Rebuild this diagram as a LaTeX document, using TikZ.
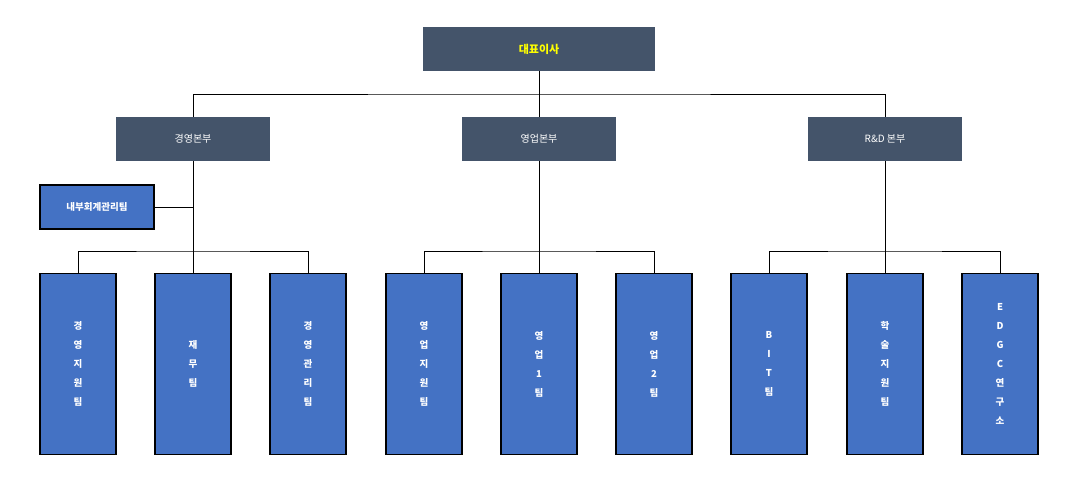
\documentclass[tikz,border=0pt]{standalone}
\usepackage{fontspec}
\newfontfamily\kr{Noto Sans CJK KR}
\usetikzlibrary{positioning}
\definecolor{HeadSlate}{HTML}{44546A}
\definecolor{TeamBlue}{HTML}{4472C4}
\definecolor{HeadYellow}{HTML}{FFFF00}

\begin{document}
\begin{tikzpicture}[
        x=1pt, y=-1pt,
        headbox/.style={rectangle, fill=HeadSlate, minimum width=232pt, minimum height=44pt, font=\kr\bfseries\fontsize{11}{13}\selectfont, text=HeadYellow},
        divbox/.style={rectangle, fill=HeadSlate, minimum width=154pt, minimum height=44pt, font=\kr\fontsize{10}{12}\selectfont, text=white},
        teambox/.style={rectangle, draw=black, line width=1.8pt, fill=TeamBlue, minimum width=76pt, minimum height=181pt, font=\kr\bfseries\fontsize{9.5}{19}\selectfont, text=white, align=center},
        sidebox/.style={rectangle, draw=black, line width=1.8pt, fill=TeamBlue, minimum width=114pt, minimum height=44pt, font=\kr\bfseries\fontsize{9.5}{12}\selectfont, text=white},
        link/.style={draw=black, line width=0.9pt}
      ]
        \useasboundingbox (0,0) rectangle (1082,485);
        % Top and divisions
        \node[headbox] (ceo) at (539,49) {대표이사};
        \node[divbox] (mgmt) at (193,139) {경영본부};
        \node[divbox] (sales) at (539,139) {영업본부};
        \node[divbox] (rnd) at (885,139) {R\&D 본부};
        \node[sidebox] (audit) at (97,207) {내부회계관리팀};

        % Teams
        \node[teambox] (t1) at (78,364) {경\\영\\지\\원\\팀};
        \node[teambox] (t2) at (193,364) {재\\무\\팀};
        \node[teambox] (t3) at (308,364) {경\\영\\관\\리\\팀};
        \node[teambox] (t4) at (424,364) {영\\업\\지\\원\\팀};
        \node[teambox] (t5) at (539,364) {영\\업\\1\\팀};
        \node[teambox] (t6) at (654,364) {영\\업\\2\\팀};
        \node[teambox] (t7) at (769,364) {B\\I\\T\\팀};
        \node[teambox] (t8) at (885,364) {학\\술\\지\\원\\팀};
        \node[teambox] (t9) at (1000,364) {E\\D\\G\\C\\연\\구\\소};

        % Connectors
        \coordinate (bus) at (539,94);
        \draw[link] (ceo) -- (sales);
        \draw[link] (mgmt.north) |- (bus) -| (rnd.north);
        \draw[link] (mgmt) -- (t2);
        \draw[link] (audit) -- (audit -| mgmt);
        \draw[link] (sales) -- (t5);
        \draw[link] (rnd) -- (t8);
        \draw[link] (t1.north) |- (193,251) -| (t3.north);
        \draw[link] (t4.north) |- (539,251) -| (t6.north);
        \draw[link] (t7.north) |- (885,251) -| (t9.north);
      \end{tikzpicture}
\end{document}
